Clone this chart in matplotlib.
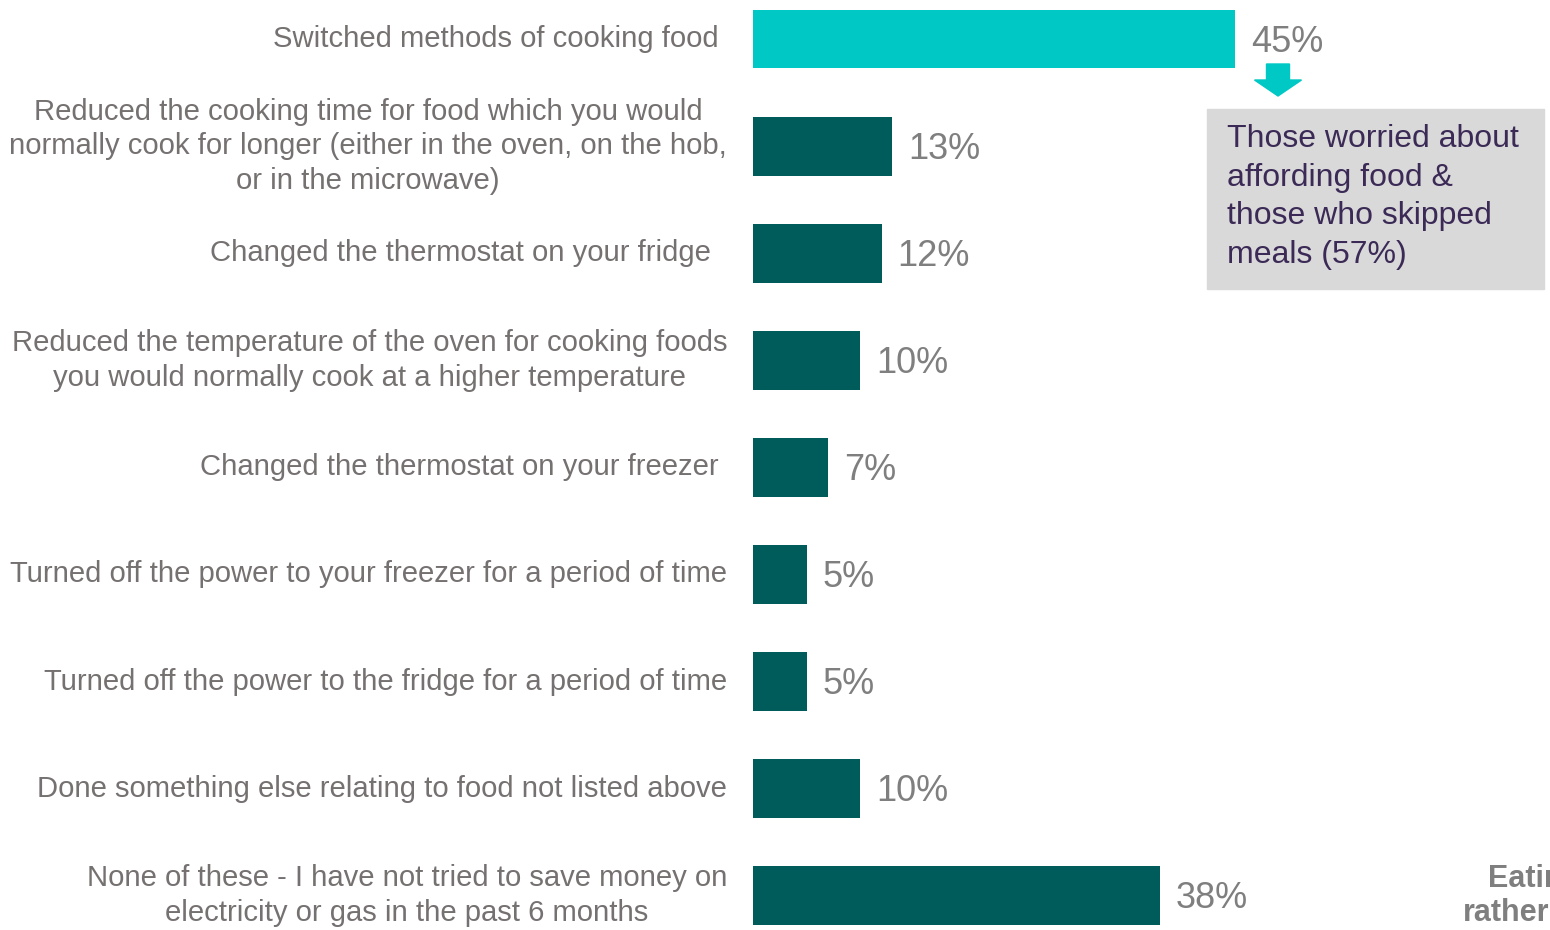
import matplotlib.pyplot as plt
from matplotlib.patches import Rectangle, FancyArrow

plt.rcParams['font.family'] = ['Liberation Sans', 'DejaVu Sans']

# actions taken to save energy when dealing with food
actions = [
    "Switched methods of cooking food ",
    "Reduced the cooking time for food which you would\nnormally cook for longer (either in the oven, on the hob,\nor in the microwave)",
    "Changed the thermostat on your fridge  ",
    "Reduced the temperature of the oven for cooking foods\nyou would normally cook at a higher temperature",
    "Changed the thermostat on your freezer ",
    "Turned off the power to your freezer for a period of time",
    "Turned off the power to the fridge for a period of time",
    "Done something else relating to food not listed above",
    "None of these - I have not tried to save money on\nelectricity or gas in the past 6 months",
]
shares = [45, 13, 12, 10, 7, 5, 5, 10, 38]

CYAN = '#00c8c5'
TEAL = '#005c5a'
GREY = '#7f7f7f'

fig = plt.figure(figsize=(15.5, 9.3), dpi=100)
ax = fig.add_axes([753 / 1550, 0, 797 / 1550, 1])

ypos = list(range(len(actions)))
colors = [CYAN] + [TEAL] * (len(actions) - 1)
ax.barh(ypos, shares, height=0.55, color=colors)

ax.set_xlim(0, 797 / 10.71)
ax.set_ylim(891 / 107.1, -39 / 107.1)
ax.axis('off')

for y, v, lab in zip(ypos, shares, actions):
    ax.annotate(f"{v}%", xy=(v, y), xytext=(16, -3), textcoords='offset pixels',
                ha='left', va='center', fontsize=26, color=GREY)
    ax.annotate(lab, xy=(0, y), xytext=(-26, 0), textcoords='offset pixels',
                ha='right', va='center', multialignment='center',
                fontsize=21.1, color='#767171', linespacing=1.3)

# callout under the top bar
fig.patches.append(FancyArrow(1278 / 1550, 1 - 64 / 930, 0, -32 / 930,
                              width=23 / 1550, head_width=47 / 1550,
                              head_length=16 / 930, length_includes_head=True,
                              color=CYAN, transform=fig.transFigure, figure=fig))
fig.patches.append(Rectangle((1207 / 1550, 1 - 289 / 930), 337 / 1550, 180 / 930,
                             color='#d9d9d9', transform=fig.transFigure, figure=fig))
fig.text(1227 / 1550, 1 - 197 / 930,
         "Those worried about\naffording food &\nthose who skipped\nmeals (57%)",
         ha='left', va='center', fontsize=23, color='#3b2a56', linespacing=1.38)

fig.text(1488 / 1550, 1 - 879 / 930, "Eating", ha='left', va='center',
         fontsize=22, fontweight='bold', color=GREY)
fig.text(1463 / 1550, 1 - 913 / 930, "rather", ha='left', va='center',
         fontsize=22, fontweight='bold', color=GREY)

fig.savefig('out.png', dpi=100)
